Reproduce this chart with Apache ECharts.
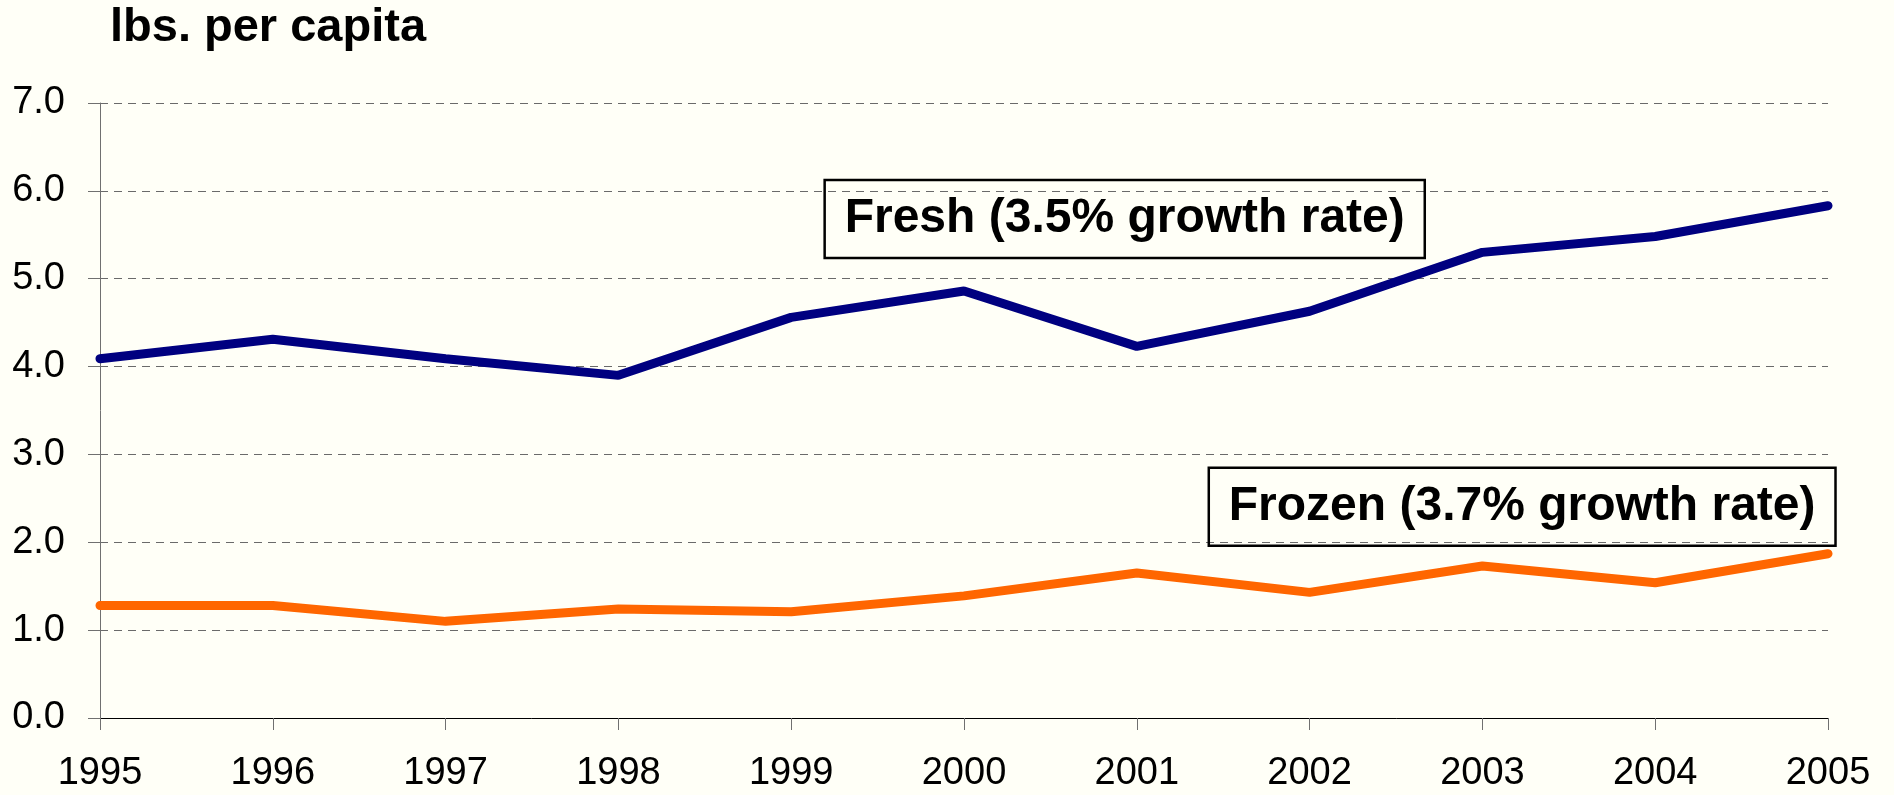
<!DOCTYPE html>
<html>
<head>
<meta charset="utf-8">
<script src="https://cdn.jsdelivr.net/npm/echarts@6/dist/echarts.min.js"></script>
<style>
  html, body { margin: 0; padding: 0; background: #FFFFF7; }
  #chart { width: 1894px; height: 795px; }
</style>
</head>
<body>
<div id="chart"></div>
<script>
// ---- data ----
const years = [1995, 1996, 1997, 1998, 1999, 2000, 2001, 2002, 2003, 2004, 2005];
const fresh = [4.09, 4.31, 4.09, 3.90, 4.56, 4.86, 4.23, 4.63, 5.30, 5.48, 5.83];
const frozen = [1.28, 1.28, 1.10, 1.24, 1.21, 1.39, 1.65, 1.43, 1.73, 1.54, 1.87];
const annotationTexts = ['Fresh (3.5% growth rate)', 'Frozen (3.7% growth rate)'];
const annotationAnchors = [[2000.93, 5.68], [2003.23, 2.405]];
const yAxisTitle = 'lbs. per capita';

const FONT = '"Liberation Sans", Arial, Helvetica, sans-serif';
const chart = echarts.init(document.getElementById('chart'));

const pairs = arr => years.map((y, i) => [y, arr[i]]);

const annotationSeries = annotationTexts.map((t, i) => ({
  type: 'scatter',
  symbolSize: 0,
  silent: true,
  z: 5,
  itemStyle: { opacity: 1 },
  data: [annotationAnchors[i]],
  label: {
    show: true,
    position: 'inside',
    formatter: t,
    fontFamily: FONT,
    fontSize: 48,
    fontWeight: 'bold',
    color: '#000',
    opacity: 1,
    lineHeight: 50,
    borderColor: '#000',
    borderWidth: 2.5,
    padding: [14, 20]
  }
}));

chart.setOption({
  backgroundColor: '#FFFFF7',
  animation: false,
  title: {
    text: yAxisTitle,
    left: 110,
    top: 5,
    padding: 0,
    textStyle: { fontFamily: FONT, fontSize: 47, fontWeight: 'bold', color: '#000' }
  },
  grid: { left: 100, right: 66, top: 103, bottom: 77, containLabel: false },
  xAxis: {
    type: 'value',
    min: 1995, max: 2005, interval: 1,
    axisLine: { show: true, lineStyle: { color: '#000', width: 1 } },
    axisTick: { show: true, length: 12, lineStyle: { color: '#707070', width: 1 } },
    axisLabel: { margin: 37, fontFamily: FONT, fontSize: 38, color: '#000', formatter: v => String(v) },
    splitLine: { show: false }
  },
  yAxis: {
    type: 'value',
    min: 0, max: 7, interval: 1,
    axisLine: { show: true, lineStyle: { color: '#707070', width: 1 } },
    axisTick: { show: true, length: 12, lineStyle: { color: '#707070', width: 1 } },
    axisLabel: { margin: 35, fontFamily: FONT, fontSize: 38, color: '#000', formatter: v => v.toFixed(1) },
    splitLine: { show: true, lineStyle: { color: '#6a6a6a', width: 1, type: [8, 6] } }
  },
  series: [
    {
      name: 'Fresh', type: 'line', data: pairs(fresh), symbol: 'none',
      lineStyle: { color: '#000080', width: 9, cap: 'round' }, z: 3
    },
    {
      name: 'Frozen', type: 'line', data: pairs(frozen), symbol: 'none',
      lineStyle: { color: '#FF6600', width: 9, cap: 'round' }, z: 3
    }
  ].concat(annotationSeries)
});
</script>
</body>
</html>
